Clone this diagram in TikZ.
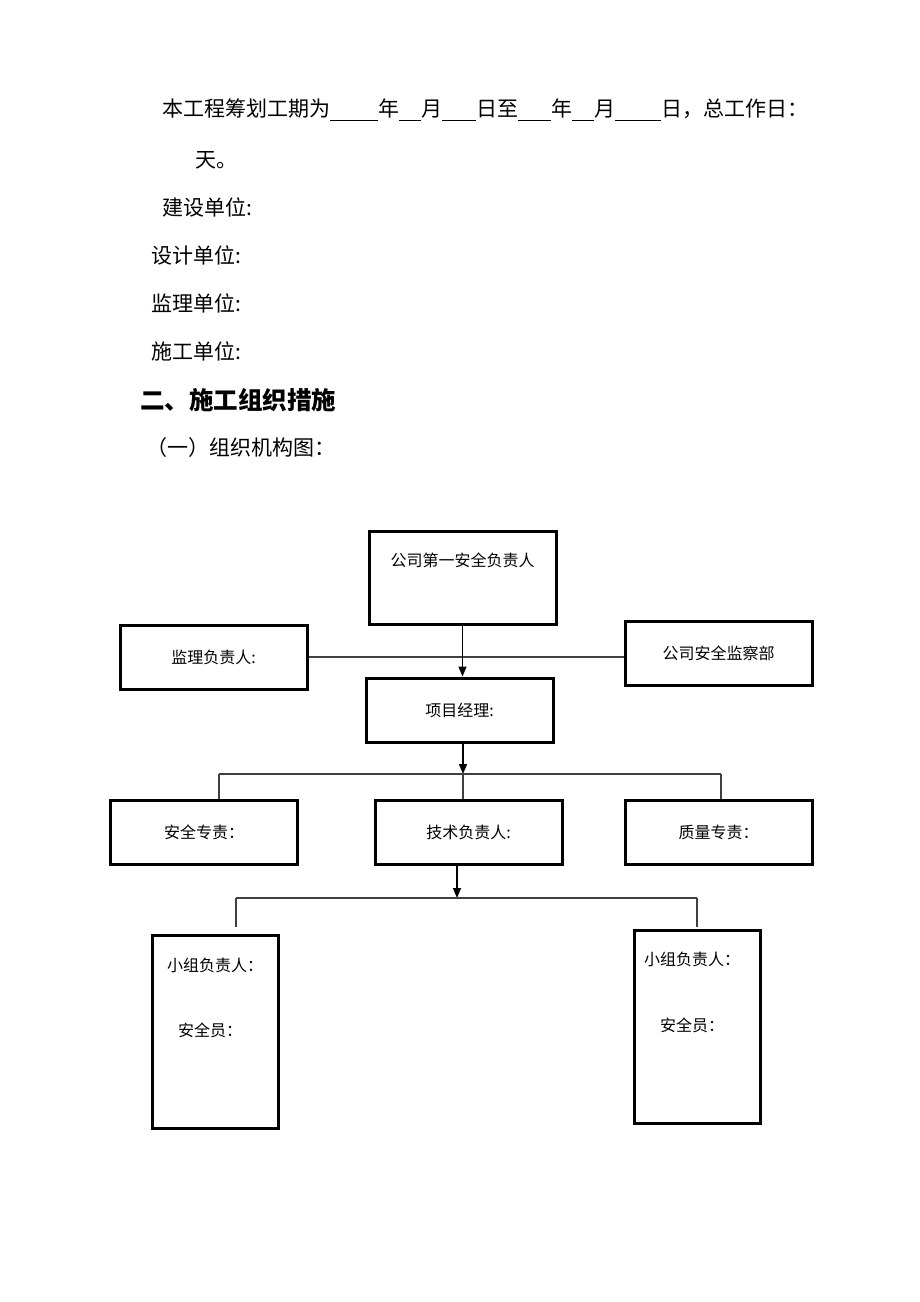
\documentclass[tikz,border=0pt]{standalone}
\usepackage{fontspec}
\setmainfont{Noto Sans CJK SC}
\usetikzlibrary{arrows.meta, positioning}
\newcommand{\blankline}[1]{\rule[-2pt]{#1}{0.6pt}}

\begin{document}
\begin{tikzpicture}[x=0.5pt, y=-0.5pt, >={Triangle[length=5pt,width=4pt]}]
    \tikzstyle{txt}=[anchor=west, inner sep=0pt, font=\fontsize{10.5pt}{12pt}\selectfont]
    \tikzstyle{box}=[rectangle, draw=black, line width=1.5pt, minimum width=93.5pt, minimum height=32pt, inner sep=0pt, font=\fontsize{8pt}{9pt}\selectfont]
    \tikzstyle{tall box}=[box, minimum width=63pt, minimum height=96.5pt]
    \tikzstyle{boxtext}=[inner sep=0pt, font=\fontsize{8pt}{9pt}\selectfont]
    \tikzstyle{link}=[draw=black!75, line width=0.75pt]
    \tikzstyle{arrow}=[->, draw=black, line width=0.7pt]

    \useasboundingbox (0,0) rectangle (920,1302);

    % Text above the chart
    \node[txt] (period) at (162,110) {本工程筹划工期为\blankline{24pt}年\blankline{11pt}月\blankline{17pt}日至\blankline{16.5pt}年\blankline{11pt}月\blankline{23pt}日，总工作日：};
    \node[txt] (days) at (195,160) {天。};
    \node[txt] (owner) at (162,207) {建设单位:};
    \node[txt] (design) at (151,255) {设计单位:};
    \node[txt] (superv) at (151,303) {监理单位:};
    \node[txt] (builder) at (151,351) {施工单位:};
    \node[txt, font=\fontsize{12.25pt}{14pt}\selectfont\bfseries] (sect) at (140,400) {二、施工组织措施};
    \node[txt] (chart) at (146,448) {（一）组织机构图：};

    % First level
    \node[box, minimum height=46.5pt] (top) at (462.5,577.5) {};
    \node[boxtext] (top-t) at (462.5,560) {公司第一安全负责人};
    \node[box] (sup) at (213.5,657) {监理负责人:};
    \node[box] (dept) at (718.5,653.5) {公司安全监察部};
    \node[box] (pm) at (459.5,710) {项目经理:};

    % Second level
    \node[box] (safe) at (204,832) {安全专责：};
    \node[box] (tech) at (468.5,832) {技术负责人:};
    \node[box] (qual) at (718.5,832) {质量专责：};

    % Groups
    \node[tall box] (g1) at (215,1031.5) {};
    \node[boxtext] (g1-a) at (215,965) {小组负责人：};
    \node[boxtext] (g1-b) at (210,1030) {安全员：};
    \node[tall box] (g2) at (697,1026.5) {};
    \node[boxtext] (g2-a) at (692,959) {小组负责人：};
    \node[boxtext] (g2-b) at (692,1025) {安全员：};

    % Connect the boxes
    \draw[link] (sup.east) -- (sup.east -| dept.west);
    \draw[arrow] (top.south) -- (top.south |- pm.north);

    \coordinate (bus1) at (463,774);
    \coordinate (bus1-l) at (219,774);
    \coordinate (bus1-r) at (721,774);
    \draw[arrow] (pm.south -| bus1) -- (bus1);
    \draw[link] (bus1-l) -- (bus1-r);
    \foreach \c / \n in {bus1-l/safe, bus1/tech, bus1-r/qual}
        \draw[link] (\c) -- (\c |- \n.north);

    \coordinate (bus2) at (457,898);
    \coordinate (bus2-l) at (236,898);
    \coordinate (bus2-r) at (697,898);
    \draw[arrow] (tech.south -| bus2) -- (bus2);
    \draw[link] (bus2-l) -- (bus2-r);
    \draw[link] (bus2-l) -- ([yshift=3.5pt]bus2-l |- g1.north);
    \draw[link] (bus2-r) -- ([yshift=1pt]bus2-r |- g2.north);
\end{tikzpicture}
\end{document}
